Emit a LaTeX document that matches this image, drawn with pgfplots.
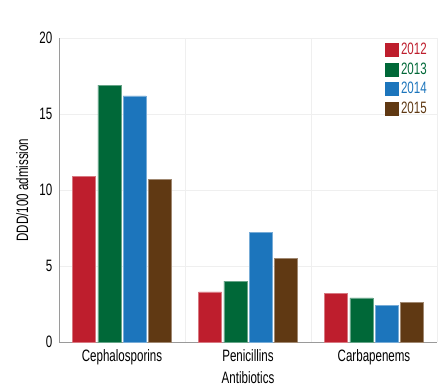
\documentclass[border=0pt]{standalone}
\usepackage{fontspec}
\setmainfont{Liberation Sans}[FakeStretch=0.7]
\usepackage{pgfplots}
\pgfplotsset{compat=1.18}
\definecolor{cA}{HTML}{BE1E2D}
\definecolor{cB}{HTML}{006838}
\definecolor{cC}{HTML}{1C75BC}
\definecolor{cD}{HTML}{603913}
\definecolor{axgray}{HTML}{9A9A9A}
\definecolor{gridc}{HTML}{EFEFEF}
\newcommand{\chartfont}{\fontsize{16.5bp}{19bp}\selectfont}
\begin{document}
\chartfont
\begin{tikzpicture}
\path[use as bounding box] (-59bp,-46bp) rectangle (386bp,342bp);
\begin{axis}[
  at={(0,0)}, anchor=south west,
  scale only axis, width=378bp, height=304bp,
  xmin=-0.5, xmax=2.5, ymin=0, ymax=20,
  ybar=2.3bp, bar width=23bp,
  xtick={0,1,2},
  xticklabels={Cephalosporins,Penicillins,Carbapenems},
  minor xtick={0.5,1.5,2.5},
  ytick={0,5,10,15,20},
  ymajorgrids, xminorgrids,
  major grid style={gridc, line width=0.8bp},
  minor grid style={gridc, line width=0.8bp},
  axis x line*=bottom, axis y line*=left,
  axis line style={-, axgray, line width=0.8bp},
  major tick length=0pt, minor tick length=0pt,
  tick style={draw=none},
  /pgf/number format/assume math mode=true,
  tick label style={font=\chartfont, black},
  label style={font=\chartfont, black},
  yticklabel style={xshift=-1bp},
  xticklabel style={yshift=-2bp},
  xlabel={Antibiotics},
  ylabel={DDD/100 admission},
  xlabel style={yshift=5bp},
  ylabel style={yshift=0bp},
  legend style={at={(rel axis cs:0.862,0.99)}, anchor=north west, draw=none, fill=none,
    inner sep=0pt, row sep=1.5bp, font=\chartfont,
    /tikz/every even column/.append style={column sep=0pt}},
  legend cell align=left,
  legend image code/.code={\fill[#1,draw=none] (0bp,-7bp) rectangle (14bp,7bp);},
]
\addplot[fill=cA, draw=cA!60!white, line width=0.5bp] coordinates {(0,10.9) (1,3.3) (2,3.2)};
\addlegendentry{\textcolor{cA}{2012}}
\addplot[fill=cB, draw=cB!60!white, line width=0.5bp] coordinates {(0,16.9) (1,4.0) (2,2.9)};
\addlegendentry{\textcolor{cB}{2013}}
\addplot[fill=cC, draw=cC!60!white, line width=0.5bp] coordinates {(0,16.2) (1,7.2) (2,2.4)};
\addlegendentry{\textcolor{cC}{2014}}
\addplot[fill=cD, draw=cD!60!white, line width=0.5bp] coordinates {(0,10.7) (1,5.5) (2,2.6)};
\addlegendentry{\textcolor{cD}{2015}}
\end{axis}
\end{tikzpicture}
\end{document}
